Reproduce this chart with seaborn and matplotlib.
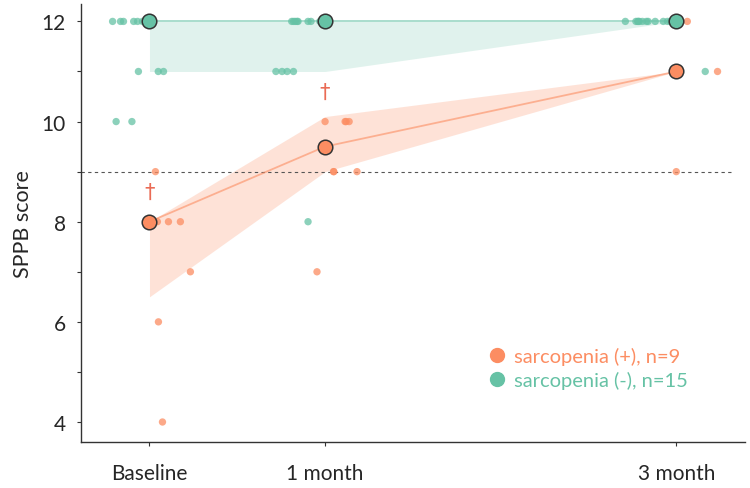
import numpy as np
import pandas as pd
import seaborn as sns
import matplotlib.pyplot as plt
from matplotlib.lines import Line2D

# time points
time_labels = ["Baseline", "1 month", "3 month"]
time_pos = [0, 1, 3]

# sarcopenia (-) individual scores, per time point
neg_time = [0] * 15 + [1] * 15 + [3] * 15
neg_score = ([12] * 10 + [11] * 3 + [10] * 2
             + [12] * 10 + [11] * 4 + [8]
             + [12] * 14 + [11])
neg_jitter = [-0.21, -0.165, -0.148, -0.09, -0.068, -0.04, -0.02, -0.01, 0.0, 0.0,
              -0.063, 0.05, 0.08, -0.19, -0.10,
              -0.19, -0.18, -0.17, -0.16, -0.154, -0.097, -0.08, -0.03, -0.01, 0.0,
              -0.28, -0.245, -0.216, -0.18, -0.097,
              -0.29, -0.23, -0.22, -0.216, -0.21, -0.193, -0.17, -0.16, -0.12,
              -0.074, -0.05, -0.034, -0.01, 0.0, 0.165]

# sarcopenia (+) individual scores, per time point
pos_time = [0] * 9 + [1] * 8 + [3] * 7
pos_score = ([9, 8, 8, 8, 8, 8, 7, 6, 4]
             + [10, 10, 10, 10, 9, 9, 9, 7]
             + [12, 11, 11, 11, 11, 11, 9])
pos_jitter = [0.034, 0.0, 0.0, 0.045, 0.108, 0.176, 0.233, 0.051, 0.074,
              0.0, 0.114, 0.137, 0.12, 0.048, 0.05, 0.182, -0.046,
              0.063, 0.0, 0.0, 0.0, 0.0, 0.235, 0.0]

# group medians and bands
neg_median = [12, 12, 12]
neg_lo = [11, 11, 12]
neg_hi = [12, 12, 12]
pos_median = [8, 9.5, 11]
pos_lo = [6.5, 9.0, 11.0]
pos_hi = [8.0, 10.1, 11.0]

# deaths
dagger_time = [0, 1]
dagger_score = [8.6, 10.6]

cutoff = 9

GREEN = "#66c2a5"
ORANGE = "#fc8d62"

sns.set_style("ticks")
plt.rcParams["font.family"] = ["Lato", "DejaVu Sans"]

fig = plt.figure(figsize=(7.5, 4.89), dpi=100)
ax = fig.add_axes([0.108, 0.094, 0.885, 0.896])

neg = pd.DataFrame({"t": np.array(neg_time) + np.array(neg_jitter), "score": neg_score})
pos = pd.DataFrame({"t": np.array(pos_time) + np.array(pos_jitter), "score": pos_score})
neg_sum = pd.DataFrame({"t": time_pos, "med": neg_median})
pos_sum = pd.DataFrame({"t": time_pos, "med": pos_median})

# bands
ax.fill_between(time_pos, neg_lo, neg_hi, color=GREEN, alpha=0.2, lw=0, zorder=1)
ax.fill_between(time_pos, pos_lo, pos_hi, color=ORANGE, alpha=0.25, lw=0, zorder=1)
sns.lineplot(data=neg_sum, x="t", y="med", color=GREEN, alpha=0.6, lw=1.3, ax=ax, zorder=2)
sns.lineplot(data=pos_sum, x="t", y="med", color=ORANGE, alpha=0.6, lw=1.3, ax=ax, zorder=2)

ax.hlines(cutoff, -0.39, 3.33, colors="#555555", linestyles=(0, (3, 3)), lw=0.8, zorder=1.5)

# individual points
sns.scatterplot(data=neg, x="t", y="score", color=GREEN, s=28, alpha=0.75,
                edgecolor="none", ax=ax, zorder=3)
sns.scatterplot(data=pos, x="t", y="score", color=ORANGE, s=28, alpha=0.75,
                edgecolor="none", ax=ax, zorder=3)

# medians
sns.scatterplot(data=neg_sum, x="t", y="med", color=GREEN, s=110,
                edgecolor="#333333", linewidth=1.1, ax=ax, zorder=4)
sns.scatterplot(data=pos_sum, x="t", y="med", color=ORANGE, s=110,
                edgecolor="#333333", linewidth=1.1, ax=ax, zorder=4)

for t, s in zip(dagger_time, dagger_score):
    ax.text(t, s, "\u2020", color="#ea6b55", fontsize=15, ha="center", va="center",
            family=["DejaVu Sans"], zorder=5)

ax.set_xlim(-0.39, 3.39)
ax.set_ylim(3.6, 12.35)
ax.set_xticks(time_pos)
ax.set_xticklabels(time_labels, fontsize=15)
ax.set_yticks([4, 6, 8, 10, 12])
ax.set_yticks([5, 7, 9, 11], minor=True)
ax.tick_params(axis="y", labelsize=15)
ax.tick_params(which="both", length=3, width=0.8, color="#333333", pad=8)
ax.tick_params(axis="x", pad=12)
ax.set_xlabel("")
ax.set_ylabel("SPPB score", fontsize=15.5, labelpad=6)
sns.despine(ax=ax)
for sp in ("left", "bottom"):
    ax.spines[sp].set_color("#333333")
    ax.spines[sp].set_linewidth(1.0)

handles = [Line2D([], [], marker="o", ls="", color=ORANGE, markersize=10),
           Line2D([], [], marker="o", ls="", color=GREEN, markersize=10)]
ax.legend(handles, ["sarcopenia (+), n=9", "sarcopenia (-), n=15"],
          labelcolor=[ORANGE, GREEN], frameon=False, fontsize=14.5,
          loc="upper left", bbox_to_anchor=(0.6, 0.235),
          handlelength=1.0, handletextpad=0.35, labelspacing=0.3, borderaxespad=0)

fig.savefig("out.png", dpi=100)
